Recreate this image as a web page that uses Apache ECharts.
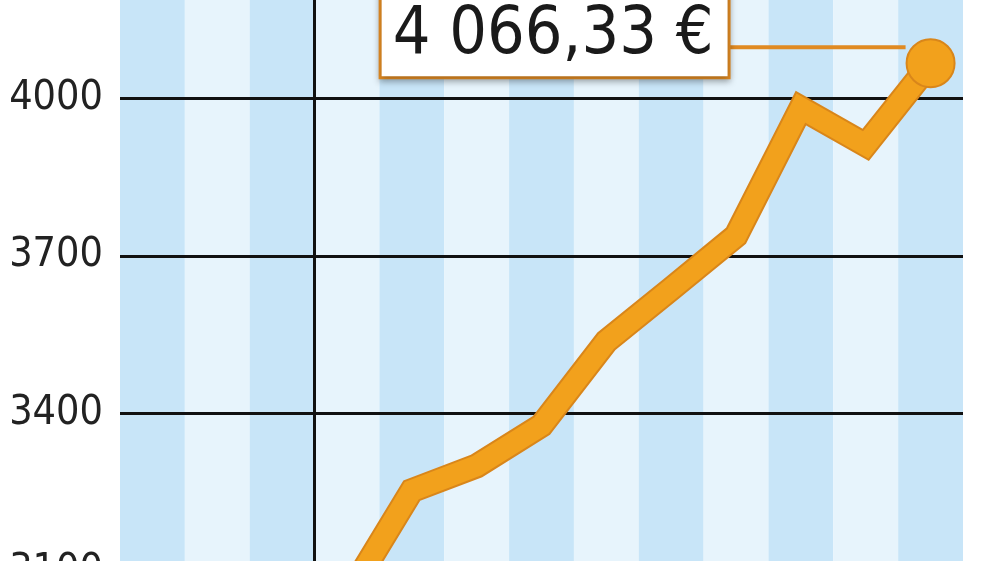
<!DOCTYPE html>
<html>
<head>
<meta charset="utf-8">
<script src="https://cdn.jsdelivr.net/npm/echarts@6/dist/echarts.min.js"></script>
<style>
html,body{margin:0;padding:0;background:#fff;}
#c{width:1000px;height:561px;}
</style>
</head>
<body>
<div id="c"></div>
<script>
// Data (13 periods, first three without values)
var categories = ['1','2','3','4','5','6','7','8','9','10','11','12','13'];
var values = [null, null, null, 3050, 3253, 3300, 3377, 3537, 3637, 3738, 3981, 3911, 4066.33];
var yTicks = [3100, 3400, 3700, 4000];
var yMin = 3100, yMax = 4300, yStep = 300;
var dividerAt = 3; // vertical separator: after the 3rd period

var FONT = '"Liberation Sans Narrow", "DejaVu Sans Condensed", sans-serif';
var ORANGE = '#f2a11c';
var ORANGE_DARK = '#d9861a';
var BOX_ORANGE = '#e08a22';

function formatEuro(v) {
  var parts = v.toFixed(2).split('.');
  var intPart = parts[0].replace(/\B(?=(\d{3})+(?!\d))/g, ' ');
  return intPart + ',' + parts[1] + ' €';
}

var last = values.length - 1;
var topData = values.map(function (v, i) {
  if (i !== last) return v;
  return {
    value: v,
    itemStyle: { color: ORANGE, borderColor: ORANGE_DARK, borderWidth: 2 },
    label: {
      show: true,
      position: 'left',
      distance: 0,
      offset: [0, -16],
      formatter: function (p) { return '{box|' + formatEuro(p.value) + '}{line|}{sp|}'; },
      rich: {
        box: {
          fontFamily: FONT,
          fontSize: 66,
          lineHeight: 70,
          color: '#1a1a1a',
          backgroundColor: '#fff',
          borderColor: BOX_ORANGE,
          borderWidth: 3,
          padding: [14, 14, 7, 11],
          verticalAlign: 'top',
          shadowColor: 'rgba(0,0,0,0.25)',
          shadowBlur: 6,
          shadowOffsetY: 3
        },
        line: {
          width: 178,
          height: 4,
          backgroundColor: BOX_ORANGE,
          verticalAlign: 'middle'
        },
        sp: {
          width: 0,
          height: 116,
          verticalAlign: 'middle'
        }
      }
    }
  };
});

var chart = echarts.init(document.getElementById('c'), null, { renderer: 'canvas' });
chart.setOption({
  animation: false,
  backgroundColor: '#fff',
  grid: { left: 120, right: 37, top: -59.5, bottom: -10, containLabel: false, outerBoundsMode: 'none' },
  xAxis: [{
    type: 'category',
    data: categories,
    boundaryGap: true,
    z: 0,
    axisLine: { show: false },
    axisTick: { show: false },
    axisLabel: { show: false },
    splitArea: {
      show: true,
      interval: 0,
      areaStyle: { color: ['#c8e5f8', '#e7f4fc'] }
    },
    splitLine: { show: false }
  }, {
    type: 'value',
    min: 0,
    max: categories.length,
    show: false,
    splitLine: { show: false }
  }],
  yAxis: {
    type: 'value',
    min: yMin,
    max: yMax,
    interval: yStep,
    z: 1,
    axisLine: { show: false },
    axisTick: { show: false },
    axisLabel: {
      margin: 17,
      fontFamily: FONT,
      fontSize: 41,
      color: '#222',
      showMaxLabel: false,
      formatter: function (v) { return yTicks.indexOf(v) >= 0 ? String(v) : ''; }
    },
    splitLine: { show: true, lineStyle: { color: '#111', width: 3 } }
  },
  series: [
    {
      type: 'line',
      xAxisIndex: 1,
      data: [],
      silent: true,
      markLine: {
        silent: true,
        symbol: 'none',
        label: { show: false },
        lineStyle: { color: '#111', width: 3, type: 'solid' },
        data: [{ xAxis: dividerAt }]
      },
      z: 2
    },
    {
      type: 'line',
      data: values,
      symbol: 'none',
      silent: true,
      lineStyle: { color: ORANGE_DARK, width: 25, join: 'miter', cap: 'butt' },
      z: 3
    },
    {
      type: 'line',
      data: topData,
      symbol: 'circle',
      showSymbol: true,
      showAllSymbol: true,
      symbolSize: function (v, p) { return p.dataIndex === last ? 48 : 0; },
      silent: true,
      itemStyle: { color: ORANGE },
      lineStyle: { color: ORANGE, width: 21, join: 'miter', cap: 'butt' },
      z: 4
    }
  ]
});
</script>
</body>
</html>
